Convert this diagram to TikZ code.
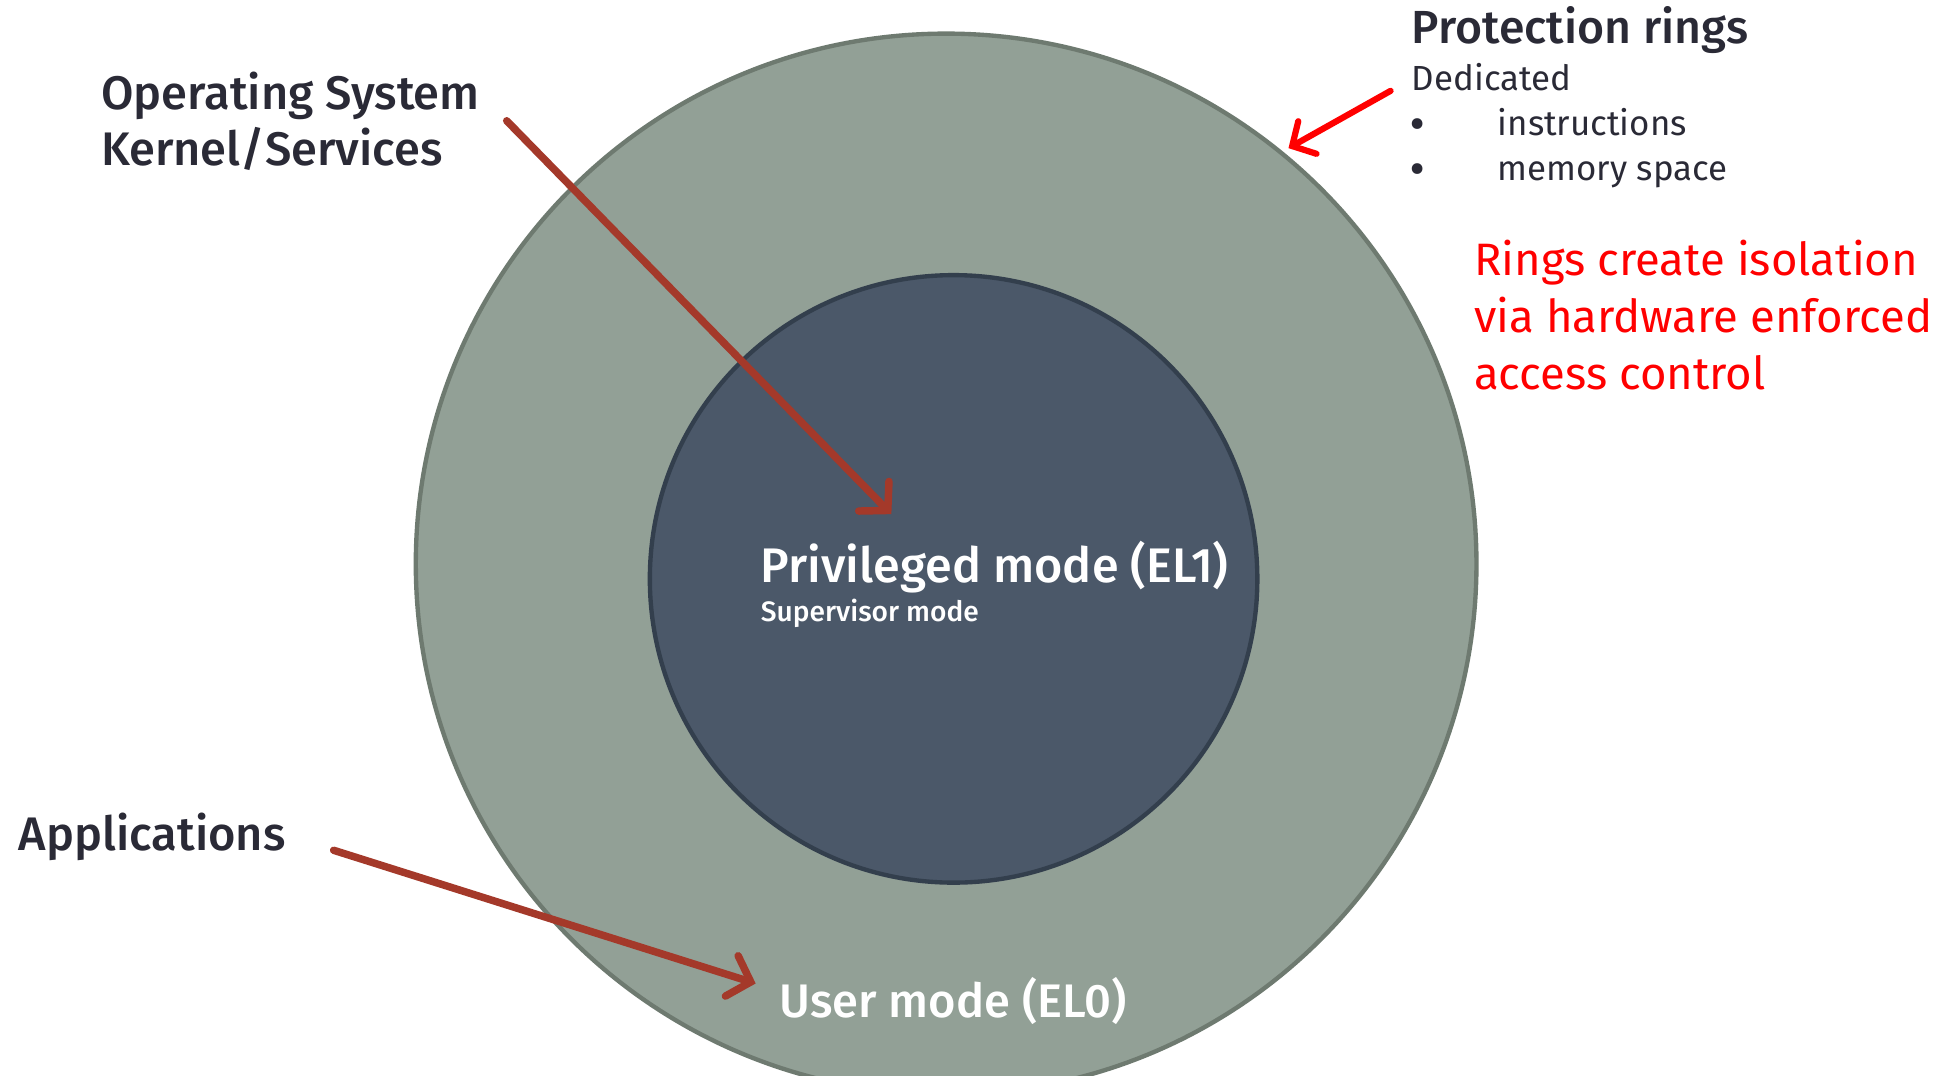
\documentclass[tikz,border=0pt]{standalone}
\usepackage{fontspec}
\setmainfont{Fira Sans}
\IfFontExistsTF{Fira Sans Medium}{\newfontfamily\medfont{Fira Sans Medium}}{\newfontfamily\medfont{Fira Sans}[FakeBold=1.2]}
\usetikzlibrary{arrows.meta}
\definecolor{outerfill}{HTML}{92A096}
\definecolor{outerline}{HTML}{6E7A70}
\definecolor{innerfill}{HTML}{4B5869}
\definecolor{innerline}{HTML}{333F4D}
\definecolor{darktext}{HTML}{2A2A36}
\definecolor{arrowred}{HTML}{A4392A}
\definecolor{brightred}{HTML}{FF0000}
\tikzset{
  head/.style={anchor=base west, inner sep=0pt, text=darktext, font=\medfont\fontsize{37.8}{44}\selectfont},
  sub/.style={anchor=base west, inner sep=0pt, text=darktext, font=\fontsize{28}{32}\selectfont},
  bulletmark/.style={anchor=base west, inner sep=0pt, text=darktext, font=\medfont\fontsize{34}{36}\selectfont},
  redtxt/.style={anchor=base west, inner sep=0pt, text=brightred, font=\fontsize{36.5}{40}\selectfont},
  wtxt/.style={anchor=base west, inner sep=0pt, text=white},
  ptr/.style={draw=arrowred, line width=6pt, line cap=round, -{Straight Barb[length=16pt,width=34pt,line cap=round]}},
  redptr/.style={draw=brightred, line width=5pt, line cap=round, -{Straight Barb[length=14pt,width=30pt,line cap=round]}},
}
\begin{document}
\begin{tikzpicture}[x=1pt,y=-1pt]
\useasboundingbox (0,0) rectangle (1568,864);
\clip (0,0) rectangle (1568,864);
\fill[white] (0,0) rectangle (1568,864);
% rings
\draw[fill=outerfill, draw=outerline, line width=3.5pt] (760,453) circle[radius=426];
\draw[fill=innerfill, draw=innerline, line width=3.5pt] (766,465) circle[radius=244];
% labels in rings
\node[wtxt, font=\medfont\fontsize{39}{44}\selectfont] (priv) at (611,468) {Privileged mode (EL1)};
\node[wtxt, font=\medfont\fontsize{22.6}{26}\selectfont] (superv) at (611,499) {Supervisor mode};
\node[wtxt, font=\medfont\fontsize{37.8}{44}\selectfont] (user) at (626,817) {User mode (EL0)};
% left labels
\node[head] (os1) at (81,88) {Operating System};
\node[head] (os2) at (81,133) {Kernel/Services};
\node[head] (apps) at (15,683) {Applications};
% right labels
\node[head, font=\medfont\fontsize{37.3}{44}\selectfont] (prot) at (1134,35) {Protection rings};
\node[sub] (ded) at (1134,73) {Dedicated};
\node[bulletmark] (b1) at (1133,111) {•};
\node[sub] (ins) at (1203,109) {instructions};
\node[bulletmark] (b2) at (1133,147) {•};
\node[sub] (mem) at (1203,145) {memory space};
\node[redtxt] (r1) at (1184,221) {Rings create isolation};
\node[redtxt] (r2) at (1184,267) {via hardware enforced};
\node[redtxt] (r3) at (1184,313) {access control};
% arrows
\coordinate (osstart) at (407,97);
\coordinate (osend) at (716,413);
\coordinate (appstart) at (268,683);
\coordinate (append) at (607,790);
\coordinate (redstart) at (1117,73);
\coordinate (redend) at (1035,119);
\draw[ptr] (osstart) -- (osend);
\draw[ptr] (appstart) -- (append);
\draw[redptr] (redstart) -- (redend);
\end{tikzpicture}
\end{document}
